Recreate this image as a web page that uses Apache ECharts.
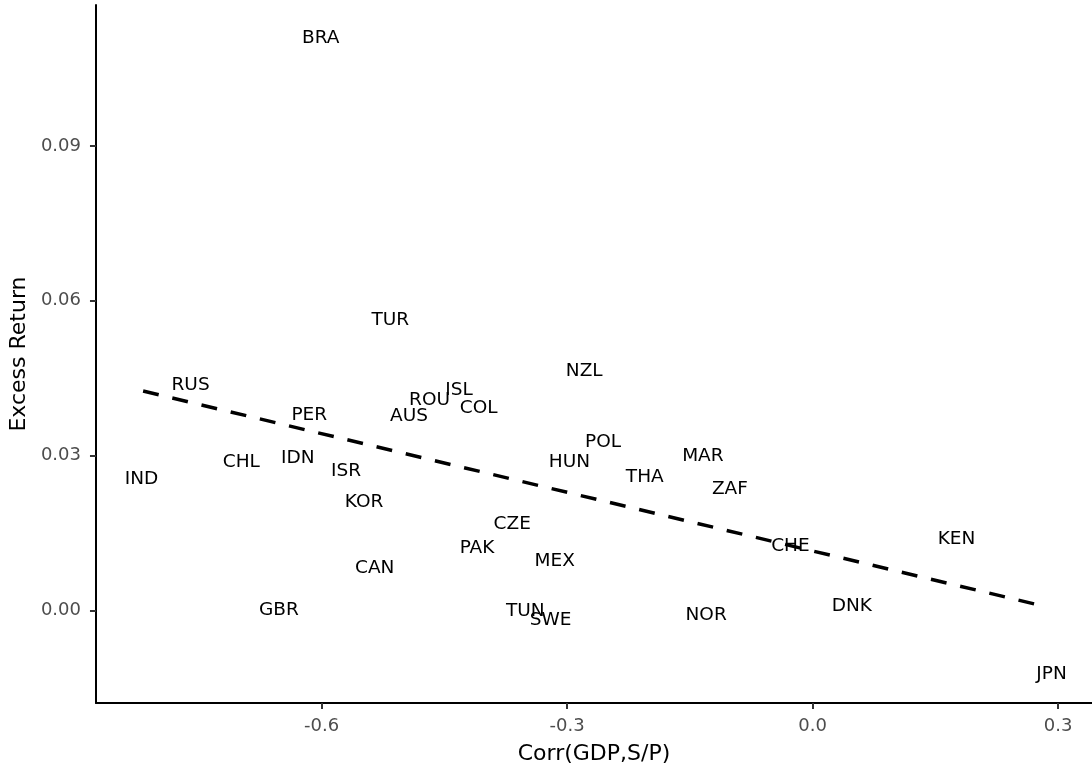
<!DOCTYPE html>
<html>
<head>
<meta charset="utf-8">
<script src="https://cdn.jsdelivr.net/npm/echarts@6/dist/echarts.min.js"></script>
<style>
  html, body { margin: 0; padding: 0; background: #fff; }
  #chart { width: 1092px; height: 770px; }
</style>
</head>
<body>
<div id="chart"></div>
<script>
// country codes
var countries = ['BRA','TUR','RUS','PER','ROU','ISL','AUS','COL','NZL','POL','HUN','MAR','THA','ZAF',
  'IND','CHL','IDN','ISR','KOR','CZE','PAK','MEX','CAN','GBR','TUN','SWE','NOR','DNK','CHE','KEN','JPN'];
// Corr(GDP,S/P)
var corr = [-0.601,-0.516,-0.760,-0.615,-0.468,-0.432,-0.493,-0.408,-0.279,-0.256,-0.297,-0.134,-0.205,-0.101,
  -0.820,-0.698,-0.629,-0.570,-0.548,-0.367,-0.410,-0.315,-0.535,-0.652,-0.351,-0.320,-0.130,0.048,-0.027,0.176,0.292];
// excess return
var excess = [0.1109,0.0563,0.0436,0.0379,0.0408,0.0427,0.0377,0.0391,0.0463,0.0326,0.0287,0.0298,0.0258,0.0235,
  0.0255,0.0288,0.0295,0.0270,0.0210,0.0166,0.0121,0.0096,0.0081,0.0000,-0.0001,-0.0020,-0.0010,0.0008,0.0125,0.0138,-0.0124];
// fitted line ends
var fitX = [-0.818, 0.28];
var fitY = [0.0425, 0.0009];

var xTicks = [-0.6, -0.3, 0.0, 0.3];
var yTicks = [0.00, 0.03, 0.06, 0.09];

var pts = [];
for (var i = 0; i < countries.length; i++) {
  pts.push({ name: countries[i], value: [corr[i], excess[i]] });
}

var myChart = echarts.init(document.getElementById('chart'));
var font = 'DejaVu Sans';
myChart.setOption({
  animation: false,
  textStyle: { fontFamily: font },
  grid: { left: 93, right: 0, top: 5, bottom: 67 },
  xAxis: {
    type: 'value',
    min: -0.8756, max: 0.3415,
    name: 'Corr(GDP,S/P)',
    nameLocation: 'middle',
    nameGap: 40,
    nameTextStyle: { fontSize: 22, color: '#000', fontFamily: font },
    axisLine: { onZero: false, lineStyle: { color: '#000', width: 2 } },
    axisTick: { customValues: xTicks, length: 6, lineStyle: { color: '#333', width: 2 } },
    axisLabel: { customValues: xTicks, margin: 14, fontSize: 18, color: '#4d4d4d', fontFamily: font,
      formatter: function (v) { return v.toFixed(1); } },
    splitLine: { show: false }
  },
  yAxis: {
    type: 'value',
    min: -0.01797, max: 0.11733,
    name: 'Excess Return',
    nameLocation: 'middle',
    nameGap: 63,
    nameTextStyle: { fontSize: 22, color: '#000', fontFamily: font },
    axisLine: { show: true, onZero: false, lineStyle: { color: '#000', width: 2 } },
    axisTick: { show: true, customValues: yTicks, length: 6, lineStyle: { color: '#333', width: 2 } },
    axisLabel: { customValues: yTicks, margin: 15, fontSize: 18, color: '#4d4d4d', fontFamily: font,
      formatter: function (v) { return v.toFixed(2); } },
    splitLine: { show: false }
  },
  series: [{
    type: 'scatter',
    symbolSize: 0,
    itemStyle: { opacity: 1 },
    data: pts,
    label: {
      show: true,
      position: 'inside',
      formatter: '{b}',
      fontSize: 18.5,
      color: '#000',
      opacity: 1,
      fontFamily: font
    }
  }, {
    type: 'line',
    symbol: 'none',
    data: [[fitX[0], fitY[0]], [fitX[1], fitY[1]]],
    lineStyle: { color: '#000', width: 3.5, type: [16, 14] },
    z: 3
  }]
});
</script>
</body>
</html>
